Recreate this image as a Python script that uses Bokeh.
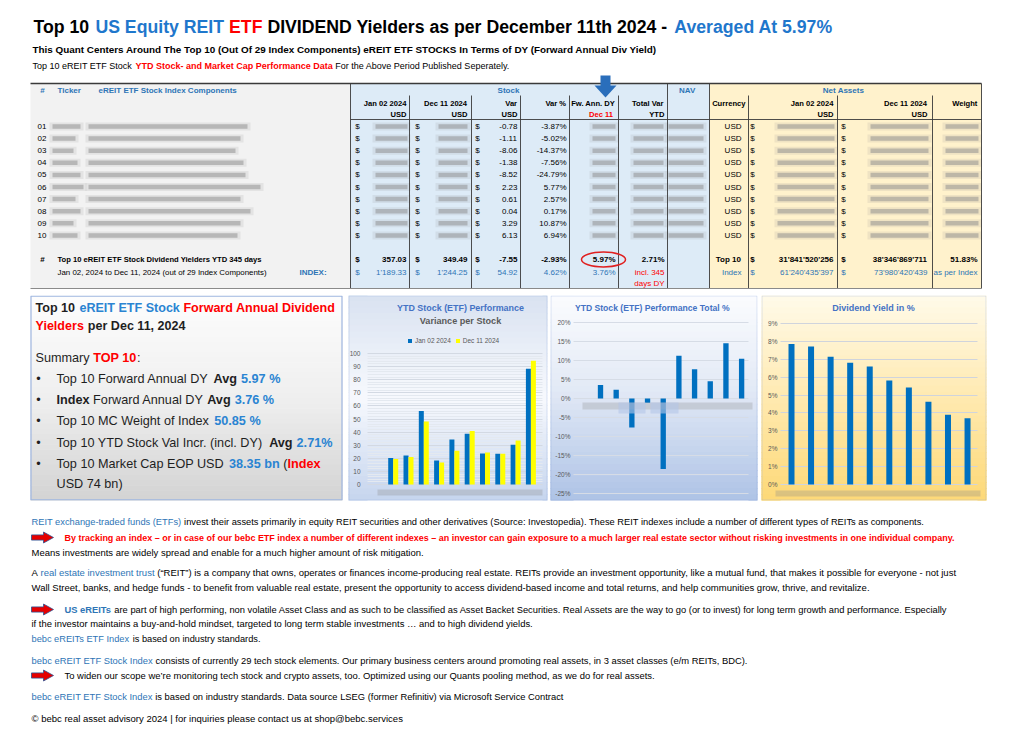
from bokeh.plotting import figure
from bokeh.layouts import column, row
from bokeh.models import (Range1d, ColumnDataSource, Spacer, BoxAnnotation, Label, Legend, LegendItem,
                          FixedTicker, PrintfTickFormatter)
from bokeh.transform import dodge
from bokeh.core.properties import value
from bokeh.embed import file_html
from bokeh.resources import INLINE

# ---------------- data ----------------
row_labels = ["01", "02", "03", "04", "05", "06", "07", "08", "09", "10"]
positions = [1, 2, 3, 4, 5, 6, 7, 8, 9, 10]
var_usd = [-0.78, -1.11, -8.06, -1.38, -8.52, 2.23, 0.61, 0.04, 3.29, 6.13]
var_pct = [-3.87, -5.02, -14.37, -7.56, -24.79, 5.77, 2.57, 0.17, 10.87, 6.94]
price_jan02 = [20.16, 22.11, 56.09, 18.25, 34.37, 38.65, 23.74, 23.50, 30.27, 88.33]
price_dec11 = [19.38, 21.00, 48.03, 16.87, 25.85, 40.88, 24.35, 23.54, 33.56, 94.46]
ytd_total_pct = [3.55, 2.31, -7.61, -1.13, -18.55, 11.25, 7.72, 4.57, 14.56, 10.44]
fwd_div_yield = [7.85, 7.72, 7.14, 6.81, 6.59, 5.81, 5.42, 4.62, 3.90, 3.71]
summary_top10 = ["357.03", "349.49", "-7.55", "-2.93%", "5.97%", "2.71%"]
summary_index = ["1'189.33", "1'244.25", "54.92", "4.62%", "3.76%"]
net_assets_top10 = ["31'841'520'256", "38'346'869'711", "51.83%"]
net_assets_index = ["61'240'435'397", "73'980'420'439", "as per Index"]
legend_labels = ["Jan 02 2024", "Dec 11 2024"]
c1_ticks = [0, 10, 20, 30, 40, 50, 60, 70, 80, 90, 100]
c1_minor = [0, 2, 4, 6, 8, 10, 12, 14, 16, 18, 20, 22, 24, 26, 28, 30, 32, 34, 36, 38, 40, 42, 44, 46, 48, 50,
            52, 54, 56, 58, 60, 62, 64, 66, 68, 70, 72, 74, 76, 78, 80, 82, 84, 86, 88, 90, 92, 94, 96, 98, 100]
c2_ticks = [-25, -20, -15, -10, -5, 0, 5, 10, 15, 20]
c3_ticks = [0, 1, 2, 3, 4, 5, 6, 7, 8, 9]

# ---------------- styling ----------------
FONT = "Liberation Sans"
K = "#000000"
DK = "#1f1f1f"
BLUE = "#2e75b6"
TBLUE = "#1f77cc"
BB = "#2a84d2"
RED = "#ff0000"
BARBLUE = "#0070c0"
GRAY = "#595959"


def _mk(groups):
    d = {}
    for w, chars in groups:
        for ch in chars:
            d[ch] = w
    return d


W_REG = _mk([(191, "'"), (222, "ijl\u2018\u2019"), (260, "|"), (278, " !,./:;Ift[]\\"),
             (333, "()-r`\u201c\u201d"), (350, "\u2022"), (355, '"'), (500, "cksvxyzJ"),
             (556, "abdeghnopqu0123456789$#?_L\u2013"), (584, "+<=>~"), (611, "FTZ"),
             (667, "ABEKPSVXY&"), (722, "CDHNRUw"), (778, "GOQ"), (833, "mM"), (889, "%"),
             (944, "W"), (737, "\u00a9"), (1000, "\u2026\u2014"), (1015, "@")])
W_BOLD = _mk([(238, "'"), (278, " ijl,./I\u2018\u2019"), (280, "|"), (333, "!:;ft()-`[]"), (350, "\u2022"),
              (389, "r"), (474, '"'), (500, "z\u201c\u201d"), (556, "acekvsxyJ0123456789$#_\u2013"),
              (584, "+<=>~"), (611, "bdghnopquFTLZ?"), (667, "EPSVXY"), (722, "ABCDHKNRU&"),
              (778, "GOQw"), (833, "M"), (889, "m%"), (944, "W"), (737, "\u00a9"),
              (1000, "\u2026\u2014"), (975, "@")])


def em(s, bold=False):
    t = W_BOLD if bold else W_REG
    return sum(t.get(c, 556) for c in s) / 1000.0


def fit(runs, target, maxsize):
    return min(maxsize, target / sum(em(t, b) for t, c, b in runs))


class Texts:
    def __init__(self):
        self.cols = {k: [] for k in ("x", "y", "text", "tcolor", "tsize", "tstyle")}

    def runs(self, x, y, runs, size, align="left"):
        total = sum(em(t, b) for t, c, b in runs) * size
        if align == "right":
            x -= total
        elif align == "center":
            x -= total / 2
        for t, c, b in runs:
            s = t.lstrip(" ")
            x += em(t[:len(t) - len(s)], b) * size
            self.cols["x"].append(x)
            self.cols["y"].append(y)
            self.cols["text"].append(s)
            self.cols["tcolor"].append(c)
            self.cols["tsize"].append("%.2fpx" % size)
            self.cols["tstyle"].append("bold" if b else "normal")
            x += em(s, b) * size

    def put(self, x, y, s, color=K, size=8.0, bold=False, align="left"):
        self.runs(x, y, [(s, color, bold)], size, align)

    def draw(self, p):
        src = ColumnDataSource(self.cols)
        p.text(x="x", y="y", text="text", source=src, text_color="tcolor", text_font_size="tsize",
               text_font_style="tstyle", text_align="left", text_baseline="middle", text_font=value(FONT))


def hx(c):
    return tuple(int(c[i:i + 2], 16) for i in (1, 3, 5))


def mix(c1, c2, t):
    a, b = hx(c1), hx(c2)
    return "#%02x%02x%02x" % tuple(int(round(a[i] + (b[i] - a[i]) * t)) for i in range(3))


def grad(stops, n):
    out = []
    for k in range(n):
        t = (k + 0.5) / n
        for (t0, c0), (t1, c1) in zip(stops[:-1], stops[1:]):
            if t0 <= t <= t1:
                out.append(mix(c0, c1, (t - t0) / (t1 - t0)))
                break
    return out


def page_fig(x0, x1, y0, y1, fy0=None, fy1=None):
    fy0 = y0 if fy0 is None else fy0
    fy1 = y1 if fy1 is None else fy1
    p = figure(width=x1 - x0, height=y1 - y0, x_range=Range1d(x0, x1), y_range=Range1d(fy1, fy0),
               x_axis_type=None, y_axis_type=None, output_backend="svg", toolbar_location=None,
               tools="", title=None, min_border_left=0, min_border_right=0,
               min_border_top=fy0 - y0, min_border_bottom=y1 - fy1)
    p.outline_line_color = None
    p.background_fill_color = "white"
    p.border_fill_color = "white"
    return p


# =============== TOP: title + table ===============
TOP = page_fig(0, 1016, 0, 290)
T = Texts()

title_runs = [("Top 10 ", K, True), ("US Equity REIT ", TBLUE, True), ("ETF ", RED, True),
              ("DIVIDEND Yielders as per December 11th 2024 - ", K, True), ("Averaged At 5.97%", TBLUE, True)]
T.runs(33, 26.5, title_runs, fit(title_runs, 800, 20))
sub_runs = [("This Quant Centers Around The Top 10 (Out Of 29 Index Components) eREIT ETF STOCKS In Terms of DY (Forward Annual Div Yield)", K, True)]
T.runs(32, 48.5, sub_runs, fit(sub_runs, 628, 12))
l3_runs = [("Top 10 eREIT ETF Stock ", K, False), ("YTD Stock- and Market Cap Performance Data", RED, True),
           (" For the Above Period Published Seperately.", K, False)]
T.runs(32, 65, l3_runs, fit(l3_runs, 478, 10.5))

# table backgrounds
TOP.quad(left=[30, 350, 709], right=[350, 709, 981], top=[83] * 3, bottom=[288] * 3,
         fill_color=["#f2f2f2", "#ddebf7", "#fff2cc"], line_color=None)

row_y = [126 + 12.1 * i for i in range(10)]
ticker_end = [80, 75, 73, 77, 80, 83, 75, 80, 73, 77]
name_end = [247, 240, 235, 243, 245, 260, 240, 250, 240, 237]
blur_cols = [(375, 407), (438, 467), (592, 615), (633, 663), (668, 703), (777, 834), (870, 928), (945, 978)]
bx, by, bw = [], [], []
for i, y in enumerate(row_y):
    for a, b in [(52, ticker_end[i]), (88, name_end[i])] + blur_cols:
        bx.append((a + b) / 2)
        by.append(y)
        bw.append(b - a)
TOP.rect(x=bx, y=by, width=[w + 6 for w in bw], height=8, fill_color="#8c8c8c", fill_alpha=0.14, line_color=None)
TOP.rect(x=bx, y=by, width=bw, height=4.5, fill_color="#8c8c8c", fill_alpha=0.5, line_color=None)

# table lines
sx0, sy0, sx1, sy1 = [], [], [], []
for x in [350, 667, 709, 981]:
    sx0.append(x); sy0.append(83); sx1.append(x); sy1.append(288)
for x in [409, 471, 520, 569, 618, 748, 837, 932]:
    sx0.append(x); sy0.append(95); sx1.append(x); sy1.append(288)
sx0 += [350]; sy0 += [119]; sx1 += [981]; sy1 += [119]
TOP.segment(x0=sx0, y0=sy0, x1=sx1, y1=sy1, line_color="#3a3a3a", line_width=0.9)
TOP.segment(x0=[30], y0=[83], x1=[981], y1=[83], line_color="#3a3a3a", line_width=1.4)
TOP.segment(x0=[30], y0=[288], x1=[981], y1=[288], line_color="#8a8a8a", line_width=1.2)

# blue arrow over Fw. Ann. DY
TOP.quad(left=[600], right=[610], top=[75], bottom=[86], fill_color="#2a6ebb", line_color=None)
TOP.patch(x=[594, 616, 605], y=[85, 85, 97], fill_color="#2a6ebb", line_color=None)

# headers
TS = 8.0
HS = 7.6
T.put(42, 90, "#", BLUE, TS, True, "center")
T.put(57, 90, "Ticker", BLUE, TS, True)
T.put(98, 90, "eREIT ETF Stock Index Components", BLUE, TS, True)
T.put(508, 90, "Stock", BLUE, TS, True, "center")
T.put(687, 90, "NAV", BLUE, TS, True, "center")
T.put(843, 90, "Net Assets", BLUE, TS, True, "center")
for xr_, s in [(406, "Jan 02 2024"), (467, "Dec 11 2024"), (517, "Var"), (566, "Var %"), (615, "Fw. Ann. DY"),
               (664, "Total Var"), (745, "Currency"), (833, "Jan 02 2024"), (927, "Dec 11 2024"), (977, "Weight")]:
    T.put(xr_, 103, s, K, HS, True, "right")
for xr_, s in [(406, "USD"), (467, "USD"), (517, "USD"), (664, "YTD"), (833, "USD"), (927, "USD")]:
    T.put(xr_, 114, s, K, HS, True, "right")
T.put(613, 114, "Dec 11", RED, HS, True, "right")

# data rows
for i, y in enumerate(row_y):
    T.put(37, y, row_labels[i], K, TS)
    for xc in (357, 417, 477, 752, 843):
        T.put(xc, y, "$", K, TS, False, "center")
    T.put(517, y, "%.2f" % var_usd[i], K, TS, False, "right")
    T.put(566, y, "%.2f%%" % var_pct[i], K, TS, False, "right")
    T.put(741, y, "USD", K, TS, False, "right")

# summary rows
r1 = [("Top 10 eREIT ETF Stock Dividend Yielders YTD 345 days", K, True)]
T.put(42, 259, "#", K, TS, True, "center")
T.runs(57, 259, r1, fit(r1, 205, TS))
for xc in (357, 417, 477, 752, 843):
    T.put(xc, 259, "$", K, TS, True, "center")
for xr_, s in zip([406, 467, 517, 566, 615, 664], summary_top10):
    T.put(xr_, 259, s, K, TS, True, "right")
T.put(741, 259, "Top 10", K, TS, True, "right")
for xr_, s in zip([833, 927, 977], net_assets_top10):
    T.put(xr_, 259, s, K, TS, True, "right")

r2 = [("Jan 02, 2024 to Dec 11, 2024 (out of 29 Index Components)", K, False)]
T.runs(57, 272, r2, fit(r2, 210, TS))
T.put(299, 272, "INDEX:", BLUE, TS, True)
for xc in (357, 417, 477, 752, 843):
    T.put(xc, 272, "$", BLUE, TS, False, "center")
for xr_, s in zip([406, 467, 517, 566, 615], summary_index):
    T.put(xr_, 272, s, BLUE, TS, False, "right")
T.put(664, 272, "incl. 345", RED, TS, False, "right")
T.put(664, 283, "days DY", RED, TS, False, "right")
T.put(741, 272, "Index", BLUE, TS, False, "right")
for xr_, s in zip([833, 927, 977], net_assets_index):
    T.put(xr_, 272, s, BLUE, TS, False, "right")

TOP.ellipse(x=[603], y=[259], width=44, height=15, fill_color=None, line_color="#e02020", line_width=1.5)
T.draw(TOP)

# =============== MIDDLE: summary box ===============
MID = page_fig(0, 345, 290, 503, 295, 500)
nb = 40
cols = grad([(0, "#fdfdfd"), (0.5, "#efefef"), (1, "#d3d3d3")], nb)
MID.quad(left=[30] * nb, right=[342] * nb, top=[295 + k * 205 / nb for k in range(nb)],
         bottom=[295 + (k + 1) * 205 / nb + 0.6 for k in range(nb)], fill_color=cols, line_color=None)
MID.quad(left=[30.5], right=[341.5], top=[295.6], bottom=[499.4], fill_color=None, line_color="#9fb6df",
         line_width=1.2)
M = Texts()
t1 = [("Top 10 ", DK, True), ("eREIT ETF Stock ", BB, True), ("Forward Annual Dividend", RED, True)]
t2 = [("Yielders", RED, True), (" per Dec 11, 2024", DK, True)]
st = fit(t1, 300, 15)
M.runs(35, 307, t1, st)
M.runs(35, 325, t2, st)
bullets = [
    [("Top 10 Forward Annual DY ", DK, False), ("Avg ", DK, True), ("5.97 %", BB, True)],
    [("Index", DK, True), (" Forward Annual DY ", DK, False), ("Avg ", DK, True), ("3.76 %", BB, True)],
    [("Top 10 MC Weight of Index ", DK, False), ("50.85 %", BB, True)],
    [("Top 10 YTD Stock Val Incr. (incl. DY) ", DK, False), ("Avg ", DK, True), ("2.71%", BB, True)],
    [("Top 10 Market Cap EOP USD ", DK, False), ("38.35 bn", BB, True), (" (", DK, False), ("Index", RED, True)],
]
sb = fit(bullets[3], 276, 16)
M.runs(35, 357, [("Summary ", DK, False), ("TOP 10", RED, True), (":", DK, False)], sb)
for yb, br in zip([378, 399, 420, 442, 463], bullets):
    M.put(38, yb, "\u2022", DK, sb, False, "center")
    M.runs(56, yb, br, sb)
M.runs(56, 483, [("USD 74 bn)", DK, False)], sb)
M.draw(MID)


# =============== MIDDLE: charts (frame == chart box) ===============
def chart(px0, px1, box, xr, yr, ticks, label_end):
    bx0, bx1 = box
    p = figure(width=px1 - px0, height=213, x_range=xr, y_range=yr, x_axis_type=None,
               output_backend="svg", toolbar_location=None, tools="", title=None,
               min_border_left=bx0 - px0, min_border_right=px1 - bx1,
               min_border_top=5, min_border_bottom=3)
    p.outline_line_color = None
    p.background_fill_color = "white"
    p.border_fill_color = "white"
    ax = p.yaxis[0]
    ax.ticker = ticks
    p.ygrid.ticker = ticks
    ax.axis_line_color = None
    ax.major_tick_line_color = None
    ax.minor_tick_line_color = None
    ax.major_tick_out = 0
    ax.major_tick_in = 0
    ax.major_label_text_font_size = "6.5px"
    ax.major_label_text_color = GRAY
    ax.major_label_text_font = FONT
    ax.major_label_standoff = -(label_end - bx0)
    return p


def sbox(p, fl, fb, x0, x1, y0, y1, **kw):
    p.add_layout(BoxAnnotation(left=x0 - fl, right=x1 - fl, top=fb - y0, bottom=fb - y1,
                               left_units="screen", right_units="screen", top_units="screen",
                               bottom_units="screen", **kw))


def slabel(p, fl, fb, x, y, text, size, color, bold=True):
    p.add_layout(Label(x=x - fl, y=fb - y, x_units="screen", y_units="screen", text=text,
                       text_align="center", text_baseline="middle", text_font=FONT,
                       text_font_size="%.2fpx" % size, text_color=color,
                       text_font_style="bold" if bold else "normal"))


def backdrop(p, box, stops, strips, n=34):
    x0, x1 = box
    y0, y1 = 295, 500
    h = (y1 - y0) / n
    colors = grad(stops, n)
    for k, c in enumerate(colors):
        sbox(p, x0, 500, x0 - 2, x1 + 2, y0 + k * h - 0.3, y0 + (k + 1) * h + 0.6, fill_color=c, fill_alpha=1,
             line_color=None, level="image")
        for s0, s1 in strips:
            sbox(p, x0, 500, s0, s1, y0 + k * h - 0.3, y0 + (k + 1) * h + 0.6, fill_color=c, fill_alpha=1,
                 line_color=None, level="glyph")
    sbox(p, x0, 500, x0 + 0.5, x1 - 0.5, y0 + 0.5, y1 - 0.5, fill_color=None, fill_alpha=0,
         line_color="#8eaadb", line_width=1, level="overlay")


# chart 1: YTD Stock (ETF) Performance - Variance per Stock
C1 = chart(345, 549, (348, 547), Range1d(-1.922, 11.085), Range1d(-12.21, 144.27),
           FixedTicker(ticks=c1_ticks, minor_ticks=c1_minor), 364)
backdrop(C1, (348, 547), [(0, "#d9e2f1"), (0.5, "#f7f9fd"), (1, "#c6d5ee")], [(346, 367), (542, 549)])
C1.ygrid.grid_line_color = "#d3d9e3"
C1.ygrid.minor_grid_line_color = "#e4e9f0"
src1 = ColumnDataSource(dict(x=positions, jan=price_jan02, dec=price_dec11))
rb1 = C1.vbar(x=dodge("x", -0.163, range=C1.x_range), top="jan", width=0.327, source=src1,
              fill_color=BARBLUE, line_color=None)
rb2 = C1.vbar(x=dodge("x", 0.163, range=C1.x_range), top="dec", width=0.327, source=src1,
              fill_color="#ffff00", line_color=None)
C1.add_layout(Legend(items=[LegendItem(label=legend_labels[0], renderers=[rb1]),
                            LegendItem(label=legend_labels[1], renderers=[rb2])],
                     orientation="horizontal", location=(59, 156), background_fill_alpha=0,
                     border_line_color=None, padding=0, margin=0, spacing=4, glyph_height=5, glyph_width=5,
                     label_height=6, label_standoff=3, label_text_font_size="6.5px",
                     label_text_color=GRAY, label_text_font=FONT))
c1t = "YTD Stock (ETF) Performance"
slabel(C1, 348, 500, 460, 307, c1t, fit([(c1t, K, True)], 127, 10), "#4472c4")
c1s = "Variance per Stock"
slabel(C1, 348, 500, 460, 320, c1s, fit([(c1s, K, True)], 82, 10), GRAY)
sbox(C1, 348, 500, 377, 542, 489, 495, fill_color="#8c8c8c", fill_alpha=0.3, line_color=None)

# chart 2: YTD Stock (ETF) Performance Total %
C2 = chart(549, 759, (550, 757), Range1d(-2.189, 11.013), Range1d(-26.842, 27.105),
           FixedTicker(ticks=c2_ticks), 570)
backdrop(C2, (550, 757), [(0, "#fbfcfe"), (0.45, "#e3eaf6"), (1, "#aec3e6")], [(548, 573), (748, 759)])
C2.yaxis.formatter = PrintfTickFormatter(format="%d%%")
C2.ygrid.grid_line_color = "#d6dce6"
src2 = ColumnDataSource(dict(x=positions, v=ytd_total_pct))
C2.vbar(x="x", top="v", bottom=0, width=0.34, source=src2, fill_color=BARBLUE, line_color=None)
c2t = "YTD Stock (ETF) Performance Total  %"
slabel(C2, 550, 500, 653, 307, c2t, fit([(c2t, K, True)], 158, 10), "#4472c4")
sbox(C2, 550, 500, 582, 752, 402, 409, fill_color="#8c8c8c", fill_alpha=0.28, line_color=None)
sbox(C2, 550, 500, 618, 645, 402, 413, fill_color="#b4c7e7", fill_alpha=0.6, line_color=None)
sbox(C2, 550, 500, 650, 678, 402, 413, fill_color="#b4c7e7", fill_alpha=0.6, line_color=None)

# chart 3: Dividend Yield in %
C3 = chart(759, 990, (761, 986), Range1d(-0.5337, 10.969), Range1d(-0.894, 10.565),
           FixedTicker(ticks=c3_ticks), 777)
backdrop(C3, (761, 986), [(0, "#fffaea"), (0.5, "#ffeab0"), (1, "#fdd877")], [(759, 780), (977, 988)])
C3.yaxis.formatter = PrintfTickFormatter(format="%d%%")
C3.ygrid.grid_line_color = "#d0d4dc"
src3 = ColumnDataSource(dict(x=positions, v=fwd_div_yield))
C3.vbar(x="x", top="v", width=0.307, source=src3, fill_color=BARBLUE, line_color=None)
c3t = "Dividend Yield in %"
slabel(C3, 761, 500, 873, 307, c3t, fit([(c3t, K, True)], 83, 10), "#4472c4")
sbox(C3, 761, 500, 775, 980, 490, 496, fill_color="#8c8c8c", fill_alpha=0.3, line_color=None)

# =============== BOTTOM: text ===============
BOT = page_fig(0, 1016, 503, 735)
B = Texts()
lines = [
    (31, 521, 926, [("REIT exchange-traded funds (ETFs)", BLUE, False),
                    (" invest their assets primarily in equity REIT securities and other derivatives (Source: Investopedia). These REIT indexes include a number of different types of REITs as components.", K, False)]),
    (64, 537, 955, [("By tracking an index \u2013 or in case of our bebc ETF index a number of different indexes \u2013 an investor can gain exposure to a much larger real estate sector without risking investments in one individual company.", RED, True)]),
    (31, 552, 423, [("Means investments are widely spread and enable for a much higher amount of risk mitigation.", K, False)]),
    (31, 572, 958, [("A ", K, False), ("real estate investment trust", BLUE, False),
                    (" (\u201cREIT\u201d) is a company that owns, operates or finances income-producing real estate. REITs provide an investment opportunity, like a mutual fund, that makes it possible for everyone - not just", K, False)]),
    (31, 587, 871, [("Wall Street, banks, and hedge funds - to benefit from valuable real estate, present the opportunity to access dividend-based income and total returns, and help communities grow, thrive, and revitalize.", K, False)]),
    (64, 609, 951, [("US eREITs", BLUE, True),
                    (" are part of high performing, non volatile Asset Class and as such to be classified as Asset Backet Securities. Real Assets are the way to go (or to invest) for long term growth and performance.  Especially", K, False)]),
    (31, 623, 533, [("if the investor maintains a buy-and-hold mindset, targeted to long term stable investments \u2026 and to high dividend yields.", K, False)]),
    (31, 638, 260, [("bebc eREITs ETF Index", BLUE, False), (" is based on industry standards.", K, False)]),
    (31, 660, 748, [("bebc eREIT ETF Stock Index", BLUE, False),
                    (" consists of currently 29 tech stock elements. Our primary business centers around promoting real assets, in 3 asset classes (e/m REITs, BDC).", K, False)]),
    (64, 675, 656, [("To widen our scope we\u2019re monitoring tech stock and crypto assets, too. Optimized using our Quants pooling method, as we do for real assets.", K, False)]),
    (31, 696, 566, [("bebc eREIT ETF Stock Index", BLUE, False),
                    (" is based on industry standards.  Data source LSEG (former Refinitiv) via Microsoft Service Contract", K, False)]),
    (31, 718, 403, [("\u00a9 bebc real asset advisory 2024 | for inquiries please contact us at shop@bebc.services", K, False)]),
]
for x0, y, x1, r in lines:
    B.runs(x0, y, r, fit(r, x1 - x0, 10.5))

for ya in (537, 609, 675):
    BOT.patch(x=[31, 43, 43, 53, 43, 43, 31], y=[ya - 2.6, ya - 2.6, ya - 5.5, ya, ya + 5.5, ya + 2.6, ya + 2.6],
              fill_color="#e60000", line_color="#2f4f8f", line_width=0.8)
B.draw(BOT)

layout = column(TOP, row(MID, C1, C2, C3, Spacer(width=26, height=213)), BOT)
open("out.html", "w").write(file_html(layout, INLINE, title="Top 10 US Equity REIT ETF Dividend Yielders"))
